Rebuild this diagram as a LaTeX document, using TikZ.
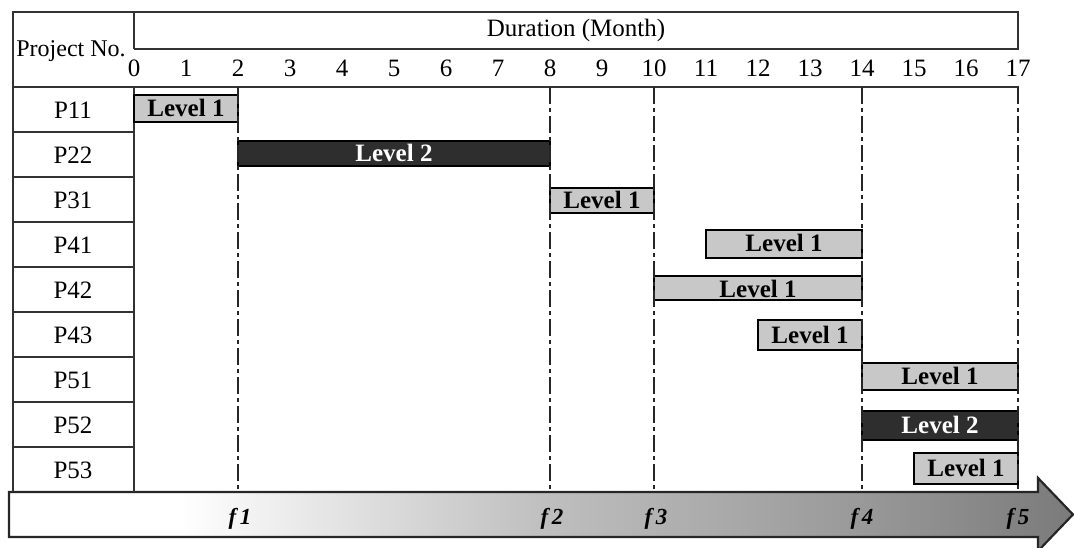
\documentclass[tikz,border=0pt]{standalone}
\usepackage{fontspec}
\setmainfont{Liberation Serif}
\definecolor{lvlonefill}{HTML}{C8C8C8}
\definecolor{lvltwofill}{HTML}{2E2E2E}
\definecolor{gridcol}{HTML}{333333}
\pgfdeclarehorizontalshading{arrowshade}{100bp}{%
  color(0bp)=(white); color(25bp)=(white); color(33bp)=(white);
  color(50bp)=(black!25); color(65bp)=(black!40); color(75bp)=(black!52); color(100bp)=(black!52)}
\newcommand\ganttbar[7]{%
  \pgfmathsetmacro\gbx{134+(#2+#3)*26}%
  \pgfmathsetmacro\gby{(#4+#5)/2}%
  \pgfmathsetmacro\gbw{(#3-#2)*52}%
  \pgfmathsetmacro\gbh{#5-#4}%
  \node[#6, minimum width=\gbw pt, minimum height=\gbh pt] (#1) at (\gbx,\gby) {};
  \node[#6text] (#1t) at ([yshift=-8pt]#1.center) {#7};
}
\begin{document}
\begin{tikzpicture}[x=1pt,y=-1pt,
  gridline/.style={draw=gridcol, line width=2pt},
  fline/.style={draw=black!85, line width=2.6pt, dash pattern=on 17pt off 4pt on 4pt off 4pt},
  txt/.style={font=\fontsize{25}{29}\selectfont, inner sep=0pt, text=black},
  tick/.style={txt, anchor=base},
  rowlab/.style={txt, anchor=base},
  lvlone/.style={draw=black, line width=1.6pt, fill=lvlonefill, inner sep=0pt},
  lvltwo/.style={draw=black, line width=1.6pt, fill=lvltwofill, inner sep=0pt},
  lvlonetext/.style={font=\fontsize{25}{29}\selectfont\bfseries, inner sep=0pt, anchor=base, text=black},
  lvltwotext/.style={font=\fontsize{25}{29}\selectfont\bfseries, inner sep=0pt, anchor=base, text=white},
  flab/.style={font=\fontsize{23}{27}\selectfont\bfseries\itshape, inner sep=0pt, anchor=base},
  arrowbody/.style={draw=black!85, line width=2.2pt, shading=arrowshade}
]
\useasboundingbox (0,0) rectangle (1074,548);

% time arrow
\path[arrowbody] (9,492) -- (1038,492) -- (1038,478) -- (1073,514.5) -- (1038,551) -- (1038,537) -- (9,537) -- cycle;

% table frame
\draw[gridline] (12,12) -- (1019,12);
\draw[gridline] (134,49) -- (1019,49);
\draw[gridline] (12,87) -- (1019,87);
\draw[gridline] (13,12) -- (13,492);
\draw[gridline] (134,12) -- (134,49);
\draw[gridline] (134,87) -- (134,492);
\draw[gridline] (1018,12) -- (1018,49);
\foreach \yy in {132,177,222,267,312,357,402,447}
  \draw[gridline] (13,\yy) -- (134,\yy);

% header texts
\node[txt, anchor=base, font=\fontsize{24}{28}\selectfont] (proj) at (71,57) {Project No.};
\node[txt, anchor=base] (dur) at (576,37) {Duration (Month)};
\foreach \m in {0,...,17}
  \node[tick] (t\m) at ({134+52*\m},77) {\m};

% row labels
\foreach \lab [count=\i from 0] in {P11,P22,P31,P41,P42,P43,P51,P52,P53}
  \node[rowlab] (r\lab) at (73,{87+45*\i+22.5+9}) {\lab};

% bars
\ganttbar{b11}{0}{2}{95}{122}{lvlone}{Level 1}
\ganttbar{b22}{2}{8}{141}{166}{lvltwo}{Level 2}
\ganttbar{b31}{8}{10}{188}{213}{lvlone}{Level 1}
\ganttbar{b41}{11}{14}{230}{258}{lvlone}{Level 1}
\ganttbar{b42}{10}{14}{276}{300}{lvlone}{}
\node[lvlonetext] (b42t) at ([yshift=-10pt]b42.center) {Level 1};
\ganttbar{b43}{12}{14}{320}{350}{lvlone}{Level 1}
\ganttbar{b51}{14}{17}{363}{390}{lvlone}{Level 1}
\ganttbar{b52}{14}{17}{411}{440}{lvltwo}{Level 2}
\ganttbar{b53}{15}{17}{453}{484}{lvlone}{Level 1}

% milestone labels
\node[flab] (f1) at (240,524) {f\,1};
\node[flab] (f2) at (552,524) {f\,2};
\node[flab] (f3) at (656,524) {f\,3};
\node[flab] (f4) at (862,524) {f\,4};
\node[flab] (f5) at (1018,524) {f\,5};

% milestone lines
\foreach \m/\f in {2/f1,8/f2,10/f3,14/f4,17/f5}{
  \coordinate (top\f) at ({134+52*\m},87);
  \coordinate (bot\f) at ({134+52*\m},492);
  \draw[fline] (top\f) -- (bot\f);
}
\end{tikzpicture}
\end{document}
